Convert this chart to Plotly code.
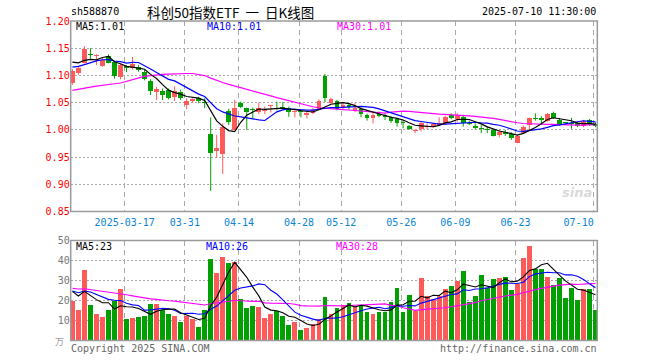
import numpy as np
import plotly.graph_objects as go

# ---------------- data ----------------
dates = [
    "2025-03-04", "2025-03-05", "2025-03-06", "2025-03-07", "2025-03-10", "2025-03-11", "2025-03-12",
    "2025-03-13", "2025-03-14", "2025-03-17", "2025-03-18", "2025-03-19", "2025-03-20", "2025-03-21",
    "2025-03-24", "2025-03-25", "2025-03-26", "2025-03-27", "2025-03-28", "2025-03-31", "2025-04-01",
    "2025-04-02", "2025-04-03", "2025-04-07", "2025-04-08", "2025-04-09", "2025-04-10", "2025-04-11",
    "2025-04-14", "2025-04-15", "2025-04-16", "2025-04-17", "2025-04-18", "2025-04-21", "2025-04-22",
    "2025-04-23", "2025-04-24", "2025-04-25", "2025-04-28", "2025-04-29", "2025-04-30", "2025-05-06",
    "2025-05-07", "2025-05-08", "2025-05-09", "2025-05-12", "2025-05-13", "2025-05-14", "2025-05-15",
    "2025-05-16", "2025-05-19", "2025-05-20", "2025-05-21", "2025-05-22", "2025-05-23", "2025-05-26",
    "2025-05-27", "2025-05-28", "2025-05-29", "2025-05-30", "2025-06-03", "2025-06-04", "2025-06-05",
    "2025-06-06", "2025-06-09", "2025-06-10", "2025-06-11", "2025-06-12", "2025-06-13", "2025-06-16",
    "2025-06-17", "2025-06-18", "2025-06-19", "2025-06-20", "2025-06-23", "2025-06-24", "2025-06-25",
    "2025-06-26", "2025-06-27", "2025-06-30", "2025-07-01", "2025-07-02", "2025-07-03", "2025-07-04",
    "2025-07-07", "2025-07-08", "2025-07-09", "2025-07-10",
]

opens = [
    1.086, 1.104, 1.123, 1.139, 1.136, 1.117, 1.135, 1.124, 1.098, 1.118,
    1.113, 1.115, 1.107, 1.090, 1.070, 1.071, 1.073, 1.060, 1.070, 1.046,
    1.054, 1.058, 1.052, 0.993, 0.962, 0.956, 1.034, 1.000, 1.050, 1.040,
    1.039, 1.032, 1.035, 1.044, 1.040, 1.043, 1.040, 1.032, 1.033, 1.0275,
    1.0305, 1.038, 1.099, 1.050, 1.053, 1.040, 1.044, 1.037, 1.039, 1.028,
    1.022, 1.029, 1.027, 1.023, 1.020, 1.015, 1.008, 0.998, 1.001, 1.0055,
    1.006, 1.009, 1.012, 1.0275, 1.020, 1.024, 1.0134, 1.008, 1.0015, 1.0005,
    1.000, 0.991, 0.997, 0.992, 0.9768, 0.994, 1.009, 1.0205, 1.0210, 1.016,
    1.031, 1.019, 1.0125, 1.0115, 1.013, 1.008, 1.0185, 1.011,
]
highs = [
    1.112, 1.116, 1.154, 1.150, 1.139, 1.133, 1.139, 1.126, 1.121, 1.119,
    1.134, 1.119, 1.110, 1.093, 1.079, 1.076, 1.076, 1.080, 1.074, 1.058,
    1.058, 1.061, 1.058, 1.023, 0.991, 1.012, 1.039, 1.055, 1.052, 1.041,
    1.041, 1.050, 1.043, 1.046, 1.052, 1.051, 1.043, 1.038, 1.037, 1.034,
    1.040, 1.056, 1.103, 1.059, 1.055, 1.049, 1.048, 1.050, 1.041, 1.030,
    1.032, 1.034, 1.030, 1.026, 1.021, 1.018, 1.009, 1.001, 1.015, 1.012,
    1.012, 1.023, 1.026, 1.0305, 1.0305, 1.0275, 1.017, 1.012, 1.009, 1.006,
    1.002, 1.000, 1.000, 0.9957, 0.991, 1.008, 1.0226, 1.0305, 1.0250, 1.031,
    1.0335, 1.022, 1.014, 1.022, 1.014, 1.0185, 1.0203, 1.014,
]
lows = [
    1.083, 1.101, 1.122, 1.131, 1.119, 1.116, 1.122, 1.094, 1.093, 1.106,
    1.111, 1.107, 1.091, 1.064, 1.055, 1.055, 1.056, 1.053, 1.055, 1.038,
    1.050, 1.049, 1.040, 0.888, 0.949, 0.919, 1.009, 0.999, 1.040, 1.000,
    1.020, 1.029, 1.029, 1.032, 1.036, 1.037, 1.024, 1.023, 1.023, 1.021,
    1.029, 1.037, 1.051, 1.048, 1.036, 1.037, 1.037, 1.033, 1.023, 1.017,
    1.012, 1.023, 1.018, 1.013, 1.006, 1.003, 1.000, 0.994, 0.997, 1.001,
    1.004, 1.007, 1.009, 1.0195, 1.015, 1.006, 1.009, 1.001, 0.994, 0.994,
    0.988, 0.9866, 0.989, 0.9817, 0.9756, 0.9927, 1.000, 1.017, 1.0125, 1.015,
    1.020, 1.008, 1.010, 1.002, 1.005, 1.005, 1.008, 1.005,
]
closes = [
    1.108, 1.113, 1.148, 1.138, 1.137, 1.129, 1.123, 1.099, 1.119, 1.114,
    1.121, 1.110, 1.093, 1.072, 1.076, 1.065, 1.059, 1.071, 1.058, 1.054,
    1.055, 1.054, 1.049, 0.958, 0.967, 1.005, 1.015, 1.040, 1.043, 1.032,
    1.037, 1.040, 1.036, 1.045, 1.039, 1.040, 1.032, 1.033, 1.032, 1.0305,
    1.037, 1.053, 1.059, 1.056, 1.038, 1.045, 1.043, 1.041, 1.029, 1.022,
    1.028, 1.026, 1.023, 1.017, 1.012, 1.013, 1.001, 1.000, 1.012, 1.006,
    1.010, 1.013, 1.024, 1.021, 1.0275, 1.012, 1.011, 1.004, 1.001, 1.000,
    0.9896, 0.9957, 0.992, 0.9847, 0.9896, 1.006, 1.0214, 1.020, 1.019, 1.029,
    1.022, 1.010, 1.012, 1.011, 1.008, 1.016, 1.011, 1.008,
]
volumes = [
    19.7, 15.5, 35.5, 18.0, 13.5, 12.0, 15.5, 19.7, 26.0, 11.0,
    11.5, 12.0, 12.5, 18.5, 18.5, 15.5, 13.5, 12.5, 9.5, 12.5,
    11.0, 7.0, 15.5, 41.0, 34.0, 42.0, 39.0, 39.5, 21.0, 16.5,
    17.5, 17.0, 11.5, 13.5, 15.0, 12.5, 8.0, 9.2, 5.5, 6.2,
    8.5, 11.0, 22.0, 13.5, 16.5, 18.0, 19.0, 17.0, 17.5, 14.5,
    13.5, 14.5, 14.5, 19.5, 26.5, 14.5, 23.0, 15.0, 31.5, 22.5,
    21.0, 22.5, 26.0, 27.5, 29.7, 35.0, 19.2, 22.5, 33.0, 26.5,
    31.0, 31.5, 32.0, 25.5, 28.5, 41.5, 47.5, 36.0, 36.0, 32.0,
    28.0, 31.5, 21.5, 26.5, 20.5, 26.0, 26.0, 15.5,
]
# sessions before the visible window (estimated), needed for the moving averages
prior_closes = [
    1.068, 1.075, 1.082, 1.078, 1.072, 1.070, 1.076, 1.080,
    1.030, 1.015, 1.010, 1.020, 1.025,
    1.035, 1.040, 1.045, 1.050, 1.048, 1.052, 1.055,
    1.100, 1.115,
    1.100, 1.105, 1.110, 1.120, 1.125, 1.130, 1.140,
]
prior_volumes = [
    28, 32, 30, 27, 31, 29, 26, 33, 30, 28, 27, 31, 29, 26, 30,
    20, 18, 22, 19, 21,
    24, 27, 23, 26, 25,
    27, 24, 28, 24,
]
tick_dates = ["2025-03-17", "2025-03-31", "2025-04-14", "2025-04-28", "2025-05-12",
              "2025-05-26", "2025-06-09", "2025-06-23", "2025-07-10"]
tick_labels = ["2025-03-17", "03-31", "04-14", "04-28", "05-12", "05-26", "06-09", "06-23", "07-10"]
price_ticks = [0.85, 0.90, 0.95, 1.00, 1.05, 1.10, 1.15, 1.20]
volume_ticks = [10, 20, 30, 40, 50]

# ---------------- helpers ----------------
W, H = 660, 360
RED = "#FF5A5A"
GREEN = "#00A000"
MONO = "DejaVu Sans Mono"
CJK = "Noto Sans CJK SC"
NB = "\u00a0"


def fx(p):
    return p / W


def fy(p):
    return 1 - p / H


def moving_avg(prior, values, k):
    arr = np.array(list(prior) + list(values), dtype=float)
    start = len(prior)
    return [float(arr[i - k + 1:i + 1].mean()) for i in range(start, len(arr))]


n = len(dates)
idx = list(range(n))
up = [c >= o for o, c in zip(opens, closes)]
colors = [RED if u else GREEN for u in up]

ma5 = moving_avg(prior_closes, closes, 5)
ma10 = moving_avg(prior_closes, closes, 10)
ma30 = moving_avg(prior_closes, closes, 30)
vma5 = moving_avg(prior_volumes, volumes, 5)
vma10 = moving_avg(prior_volumes, volumes, 10)
vma30 = moving_avg(prior_volumes, volumes, 30)

MIN_BODY = 0.0019
body_base = [min(o, c) for o, c in zip(opens, closes)]
body_h = [max(abs(c - o), MIN_BODY) for o, c in zip(opens, closes)]

fig = go.Figure()

# wicks
for col, flag in ((RED, True), (GREEN, False)):
    wx, wy = [], []
    for i in idx:
        if up[i] == flag:
            wx += [i, i, None]
            wy += [lows[i], highs[i], None]
    fig.add_trace(go.Scatter(x=wx, y=wy, mode="lines", line=dict(color=col, width=1),
                             hoverinfo="skip", xaxis="x", yaxis="y"))

# bodies
fig.add_trace(go.Bar(x=idx, y=body_h, base=body_base, width=0.8,
                     marker=dict(color=colors, line=dict(width=0)),
                     xaxis="x", yaxis="y"))

# price moving averages
for vals, col in ((ma30, "#FF00FF"), (ma10, "#0000FF"), (ma5, "#000000")):
    fig.add_trace(go.Scatter(x=idx, y=vals, mode="lines", line=dict(color=col, width=1.2),
                             xaxis="x", yaxis="y"))

# volume
fig.add_trace(go.Bar(x=idx, y=volumes, width=0.8,
                     marker=dict(color=colors, line=dict(width=0)),
                     xaxis="x2", yaxis="y2"))
for vals, col in ((vma30, "#FF00FF"), (vma10, "#0000FF"), (vma5, "#000000")):
    fig.add_trace(go.Scatter(x=idx, y=vals, mode="lines", line=dict(color=col, width=1.1),
                             xaxis="x2", yaxis="y2"))

# ---------------- axes ----------------
X0, X1 = 70.7, 597.3
MAIN_TOP, MAIN_BOT = 21.0, 211.6
VOL_TOP, VOL_BOT = 240.5, 340.5
xrange_ = [-0.283, 87.3]
tickvals = [dates.index(d) - 0.3 for d in tick_dates]
# the last date label sits to the left of its tick, inside the frame
shown_labels = tick_labels[:-1] + [tick_labels[-1] + NB * 5]
GRID = "#A8A8A8"

common_x = dict(domain=[fx(X0), fx(X1)], range=xrange_, showgrid=True, gridcolor=GRID,
                gridwidth=1, griddash="5px,4px", zeroline=False, showline=False,
                tickvals=tickvals, ticks="", fixedrange=True, automargin=False)

fig.update_layout(
    width=W, height=H,
    margin=dict(l=0, r=0, t=0, b=0, autoexpand=False),
    paper_bgcolor="white", plot_bgcolor="white",
    showlegend=False, bargap=0,
    xaxis=dict(common_x, anchor="y", ticktext=shown_labels, ticklabelstandoff=3,
               tickfont=dict(family=MONO, size=10, color="#0A84D6")),
    yaxis=dict(domain=[fy(MAIN_BOT), fy(MAIN_TOP)], range=[0.85, 1.20],
               tickvals=price_ticks, ticktext=[f"{v:.2f}" for v in price_ticks],
               tickfont=dict(family=MONO, size=10, color="#FF0000"),
               showgrid=True, gridcolor=GRID, griddash="2px,2px", gridwidth=1,
               zeroline=False, showline=False, ticks="", fixedrange=True, anchor="x",
               automargin=False),
    xaxis2=dict(common_x, anchor="y2", showticklabels=False),
    yaxis2=dict(domain=[fy(VOL_BOT), fy(VOL_TOP)], range=[0, 50],
                tickvals=volume_ticks, ticktext=[str(v) for v in volume_ticks],
                tickfont=dict(family=MONO, size=10, color="#777777"),
                showgrid=True, gridcolor=GRID, griddash="2px,2px", gridwidth=1,
                zeroline=False, showline=False, ticks="", fixedrange=True, anchor="x2",
                automargin=False),
)

# frames
for top, bot in ((MAIN_TOP, MAIN_BOT), (VOL_TOP, VOL_BOT)):
    fig.add_shape(type="rect", xref="paper", yref="paper",
                  x0=fx(X0), x1=fx(X1), y0=fy(bot), y1=fy(top),
                  line=dict(color="#9A9A9A", width=1.5), layer="above")

# ---------------- texts ----------------
def txt(x, y, s, color="#000000", size=10, family=MONO, anchor="left"):
    fig.add_annotation(x=fx(x), y=fy(y), xref="paper", yref="paper", text=s, showarrow=False,
                       xanchor=anchor, yanchor="middle",
                       font=dict(family=family, size=size, color=color))


txt(69, 12, "sh588870")
txt(230, 12, f"科创50指数ETF{NB}{NB}一{NB}{NB}日K线图", size=13.5, family=CJK, anchor="center")
txt(598, 12, "2025-07-10 11:30:00", anchor="right")

txt(74, 27, f"MA5:{ma5[-1]:.2f}", "#000000")
txt(205, 27, f"MA10:{ma10[-1]:.2f}", "#0000FF")
txt(335, 27, f"MA30:{ma30[-1]:.2f}", "#FF00FF")

txt(74, 246, f"MA5:{vma5[-1]:.0f}", "#000000")
txt(204, 246, f"MA10:{vma10[-1]:.0f}", "#0000FF")
txt(334, 246, f"MA30:{vma30[-1]:.0f}", "#FF00FF")

txt(66, 341, "万", "#999999", size=9, family=CJK, anchor="right")
txt(69, 348, "Copyright 2025 SINA.COM", "#666666")
txt(599, 348, "http://finance.sina.com.cn", "#666666", anchor="right")
txt(594, 192, "<i><b>sina</b></i>", "#D9D9D9", size=13, family="DejaVu Sans", anchor="right")

# remove the browser's default 8px page margin so the figure sits at (0, 0)
fig.write_html("out.html",
               config={"displayModeBar": False, "staticPlot": True},
               post_script="document.body.style.margin='0';document.body.style.overflow='hidden';")
